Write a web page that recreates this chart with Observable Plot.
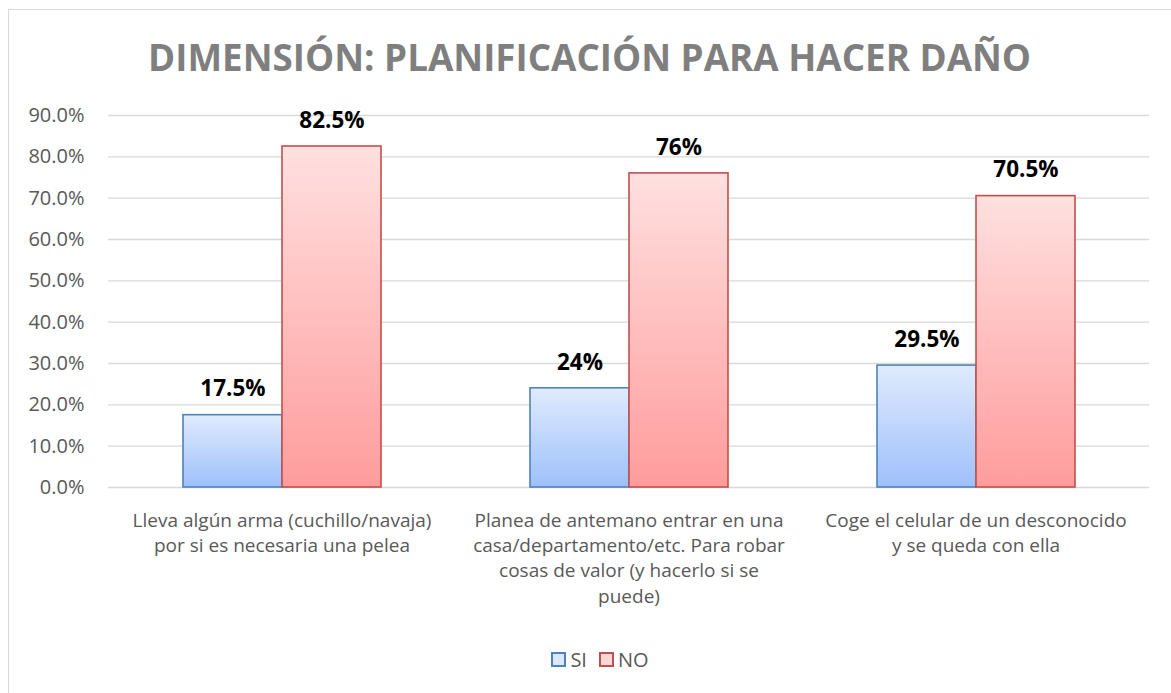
<!DOCTYPE html>
<html>
<head>
<meta charset="utf-8">
<script src="https://cdn.jsdelivr.net/npm/d3@7"></script>
<script src="https://cdn.jsdelivr.net/npm/@observablehq/plot@0.6"></script>
<style>
  html, body { margin: 0; padding: 0; background: #fff; overflow: hidden; }
  #frame { position: absolute; left: 8px; top: 9px; width: 1200px; height: 720px;
           border: 1px solid #d9d9d9; box-sizing: border-box; background: #fff; }
  #title { position: absolute; left: 0; top: 28px; width: 1162px; text-align: center;
           font-family: "Open Sans", sans-serif; font-weight: 700; font-size: 37px;
           color: #7f7f7f; white-space: nowrap; line-height: 1; }
  #title span { display: inline-block; transform-origin: center; }
  #chart { position: absolute; left: 0; top: 80px; }
  #legend { position: absolute; left: 0; top: 636px; width: 1182px; text-align: center;
            font-family: "Open Sans", sans-serif; font-size: 20px; color: #595959; }
  .sw { display: inline-block; width: 11px; height: 11px; vertical-align: 0px; margin-right: 4px; border-width: 2px; border-style: solid; }
  .item { margin: 0 6px; }
</style>
</head>
<body>
<div id="frame">
  <div id="title"><span id="tspan">DIMENSIÓN: PLANIFICACIÓN PARA HACER DAÑO</span></div>
  <div id="chart"></div>
  <div id="legend"></div>
</div>
<script>
const categories = ["Lleva algún arma", "Planea de antemano", "Coge el celular"];
const categoryLabels = [
  "Lleva algún arma (cuchillo/navaja)\npor si es necesaria una pelea",
  "Planea de antemano entrar en una\ncasa/departamento/etc. Para robar\ncosas de valor (y hacerlo si se\npuede)",
  "Coge el celular de un desconocido\ny se queda con ella"
];
const series = ["SI", "NO"];
const siValues = [17.5, 24, 29.5];
const noValues = [82.5, 76, 70.5];
const siLabels = ["17.5%", "24%", "29.5%"];
const noLabels = ["82.5%", "76%", "70.5%"];
const yTicks = [0, 10, 20, 30, 40, 50, 60, 70, 80, 90];

const data = [];
categories.forEach((c, i) => {
  data.push({cat: c, series: "SI", value: siValues[i], label: siLabels[i]});
  data.push({cat: c, series: "NO", value: noValues[i], label: noLabels[i]});
});
const catLabel = new Map(categories.map((c, i) => [c, categoryLabels[i]]));

const SI_BASE = "#b8d0fa", NO_BASE = "#ffb8b8";

const svg = Plot.plot({
  width: 1162,
  height: 560,
  marginTop: 25,
  marginBottom: 163,
  marginLeft: 98,
  marginRight: 21,
  style: {fontFamily: "'Open Sans', sans-serif", background: "transparent"},
  fx: {domain: categories, padding: 0, label: null},
  x: {domain: series, paddingInner: 0, paddingOuter: 0.74, axis: null},
  y: {domain: [0, 90], ticks: yTicks, label: null},
  marks: [
    Plot.gridY(yTicks, {stroke: "#d9d9d9", strokeOpacity: 1, strokeWidth: 1.3}),
    Plot.axisY(yTicks, {tickSize: 0, tickPadding: 24, tickFormat: d => d.toFixed(1) + "%",
      fontSize: 20, fill: "#595959", label: null}),
    Plot.axisFx({anchor: "bottom", tickSize: 0, tickPadding: 22, fontSize: 19, fill: "#595959",
      lineHeight: 1.32, tickFormat: d => catLabel.get(d), label: null}),
    Plot.barY(data.filter(d => d.series === "SI"), {fx: "cat", x: "series", y: "value",
      fill: SI_BASE, stroke: "#4f81bd", strokeWidth: 1.6}),
    Plot.barY(data.filter(d => d.series === "NO"), {fx: "cat", x: "series", y: "value",
      fill: NO_BASE, stroke: "#c0504d", strokeWidth: 1.6}),
    Plot.text(data, {fx: "cat", x: "series", y: "value", text: "label", dy: -26,
      fontSize: 22.5, fontWeight: "bold", fill: "#000"})
  ]
});

const ns = "http://www.w3.org/2000/svg";
const defs = document.createElementNS(ns, "defs");
defs.innerHTML = `
  <linearGradient id="gSI" x1="0" y1="0" x2="0" y2="1">
    <stop offset="0" stop-color="#e0ebfd"/><stop offset="1" stop-color="#9ec0fa"/>
  </linearGradient>
  <linearGradient id="gNO" x1="0" y1="0" x2="0" y2="1">
    <stop offset="0" stop-color="#ffe0e0"/><stop offset="1" stop-color="#ff9c9c"/>
  </linearGradient>`;
svg.insertBefore(defs, svg.firstChild);
svg.querySelectorAll(`[fill="${SI_BASE}"]`).forEach(el => el.setAttribute("fill", "url(#gSI)"));
svg.querySelectorAll(`[fill="${NO_BASE}"]`).forEach(el => el.setAttribute("fill", "url(#gNO)"));
document.getElementById("chart").appendChild(svg);

// legend
const legend = document.getElementById("legend");
[["SI", "#dce8fd", "#4f81bd"], ["NO", "#ffd6d6", "#c0504d"]].forEach(([name, fill, stroke]) => {
  const item = document.createElement("span");
  item.className = "item";
  item.innerHTML = `<span class="sw" style="background:${fill};border-color:${stroke}"></span>${name}`;
  legend.appendChild(item);
});

// fit title width to reference (~883px)
const ts = document.getElementById("tspan");
const w = ts.getBoundingClientRect().width;
ts.style.transform = `scaleX(${883 / w})`;
</script>
</body>
</html>
